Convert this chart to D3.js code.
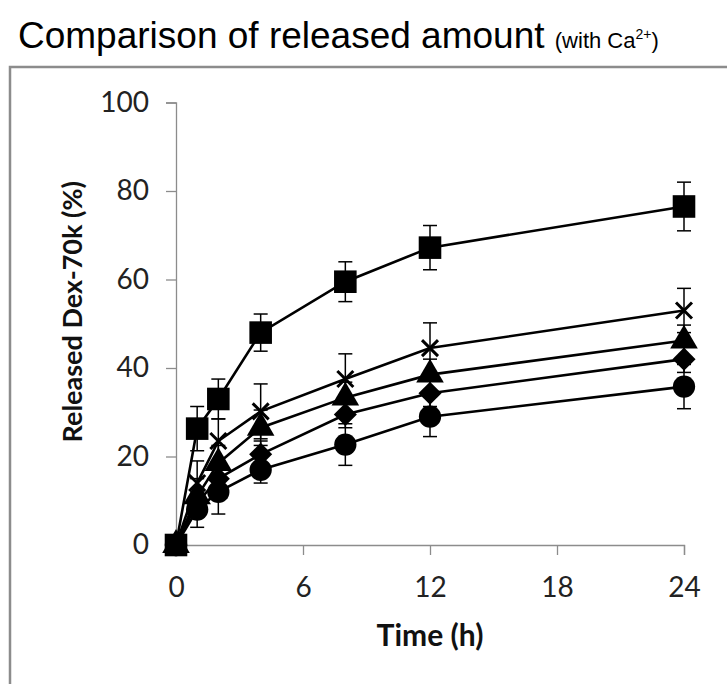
<!DOCTYPE html>
<html>
<head>
<meta charset="utf-8">
<script src="https://cdn.jsdelivr.net/npm/d3@7"></script>
<style>
  html, body { margin: 0; padding: 0; background: #fff; }
  svg { display: block; }
</style>
</head>
<body>
<svg id="chart" width="727" height="684"></svg>
<script>
// Release time points (h)
const times = [0, 1, 2, 4, 8, 12, 24];

// Cumulative released Dex-70k (%) per formulation, with SD
const squareVals = [0, 26.3, 33.0, 48.0, 59.5, 67.2, 76.5];
const squareErr  = [0, 5.0, 4.5, 4.2, 4.5, 5.0, 5.5];
const crossVals  = [0, 14.0, 23.5, 30.2, 37.5, 44.5, 53.0];
const crossErr   = [0, 5.0, 5.0, 6.2, 5.7, 5.7, 5.0];
const triVals    = [0, 11.0, 18.5, 26.5, 33.3, 38.5, 46.2];
const triErr     = [0, 4.0, 4.0, 4.0, 3.5, 3.5, 3.5];
const diaVals    = [0, 9.5, 15.0, 20.5, 29.5, 34.3, 42.0];
const diaErr     = [0, 3.0, 4.0, 3.0, 3.0, 3.0, 3.0];
const circVals   = [0, 8.0, 12.0, 17.0, 22.7, 29.0, 35.8];
const circErr    = [0, 4.0, 5.0, 3.0, 4.7, 4.5, 5.0];

const xTicks = [0, 6, 12, 18, 24];
const yTicks = [0, 20, 40, 60, 80, 100];

const series = [
  { marker: "circle",   values: circVals,   err: circErr },
  { marker: "diamond",  values: diaVals,    err: diaErr },
  { marker: "triangle", values: triVals,    err: triErr },
  { marker: "cross",    values: crossVals,  err: crossErr },
  { marker: "square",   values: squareVals, err: squareErr }
];

const svg = d3.select("#chart");

// Title
const title = svg.append("text")
  .attr("transform", "translate(18,48)")
  .attr("font-family", "Liberation Sans, Arial, sans-serif")
  .attr("font-size", 37)
  .attr("fill", "#000");
title.append("tspan").text("Comparison of released amount ");
title.append("tspan").attr("font-size", 22).text("(with Ca");
title.append("tspan").attr("font-size", 14).attr("dy", -9).text("2+");
title.append("tspan").attr("font-size", 22).attr("dy", 9).text(")");

// Frame around the chart area
svg.append("path")
  .attr("d", "M10,684 V67 H727")
  .attr("fill", "none")
  .attr("stroke", "#8c8c8c")
  .attr("stroke-width", 2.5);

const x = d3.scaleLinear().domain([0, 24]).range([176, 684]);
const y = d3.scaleLinear().domain([0, 100]).range([545, 102.5]);

const tickFont = "Lato, 'Open Sans', sans-serif";

// Y axis
const yAxis = svg.append("g")
  .attr("transform", `translate(${x(0)},0)`)
  .call(d3.axisLeft(y).tickValues(yTicks).tickSize(10).tickPadding(17));
// X axis
const xAxis = svg.append("g")
  .attr("transform", `translate(0,${y(0)})`)
  .call(d3.axisBottom(x).tickValues(xTicks).tickSize(10).tickPadding(22));

[yAxis, xAxis].forEach(g => {
  g.select(".domain").attr("stroke", "#8c8c8c").attr("stroke-width", 1.3);
  g.selectAll(".tick line").attr("stroke", "#8c8c8c").attr("stroke-width", 1.3);
  g.selectAll(".tick text")
    .attr("font-family", tickFont)
    .attr("font-size", 28)
    .attr("fill", "#222");
});

// Axis titles
svg.append("text")
  .attr("transform", `translate(82,${(y(0) + y(100)) / 2 - 12}) rotate(-90)`)
  .attr("text-anchor", "middle")
  .attr("font-family", tickFont)
  .attr("font-weight", "bold")
  .attr("font-size", 27)
  .attr("fill", "#111")
  .text("Released Dex-70k (%)");

svg.append("text")
  .attr("x", 430)
  .attr("y", 646)
  .attr("text-anchor", "middle")
  .attr("font-family", tickFont)
  .attr("font-weight", "bold")
  .attr("font-size", 30)
  .attr("fill", "#111")
  .text("Time (h)");

const plot = svg.append("g");

// Error bars
series.forEach(s => {
  const g = plot.append("g");
  times.forEach((t, i) => {
    const e = s.err[i];
    if (e <= 0) return;
    const cx = x(t), top = y(s.values[i] + e), bot = y(s.values[i] - e);
    g.append("line").attr("x1", cx).attr("x2", cx).attr("y1", top).attr("y2", bot);
    g.append("line").attr("x1", cx - 7).attr("x2", cx + 7).attr("y1", top).attr("y2", top);
    g.append("line").attr("x1", cx - 7).attr("x2", cx + 7).attr("y1", bot).attr("y2", bot);
  });
  g.selectAll("line").attr("stroke", "#000").attr("stroke-width", 1.5);
});

// Lines
const line = d3.line().x((d, i) => x(times[i])).y(d => y(d));
series.forEach(s => {
  plot.append("path")
    .datum(s.values)
    .attr("d", line)
    .attr("fill", "none")
    .attr("stroke", "#000")
    .attr("stroke-width", 2.6);
});

// Markers
const symbolFor = {
  circle:   d3.symbol(d3.symbolCircle, 390),
  diamond:  d3.symbol(d3.symbolDiamond2, 340),
  triangle: d3.symbol(d3.symbolTriangle, 330),
  square:   d3.symbol(d3.symbolSquare, 510)
};
series.forEach(s => {
  const g = plot.append("g");
  s.values.forEach((v, i) => {
    const cx = x(times[i]), cy = y(v);
    if (s.marker === "cross") {
      const r = 8;
      g.append("path")
        .attr("d", `M${cx - r},${cy - r}L${cx + r},${cy + r}M${cx - r},${cy + r}L${cx + r},${cy - r}`)
        .attr("stroke", "#000").attr("stroke-width", 3).attr("fill", "none");
    } else {
      g.append("path")
        .attr("d", symbolFor[s.marker]())
        .attr("transform", `translate(${cx},${cy})`)
        .attr("fill", "#000");
    }
  });
});
</script>
</body>
</html>
